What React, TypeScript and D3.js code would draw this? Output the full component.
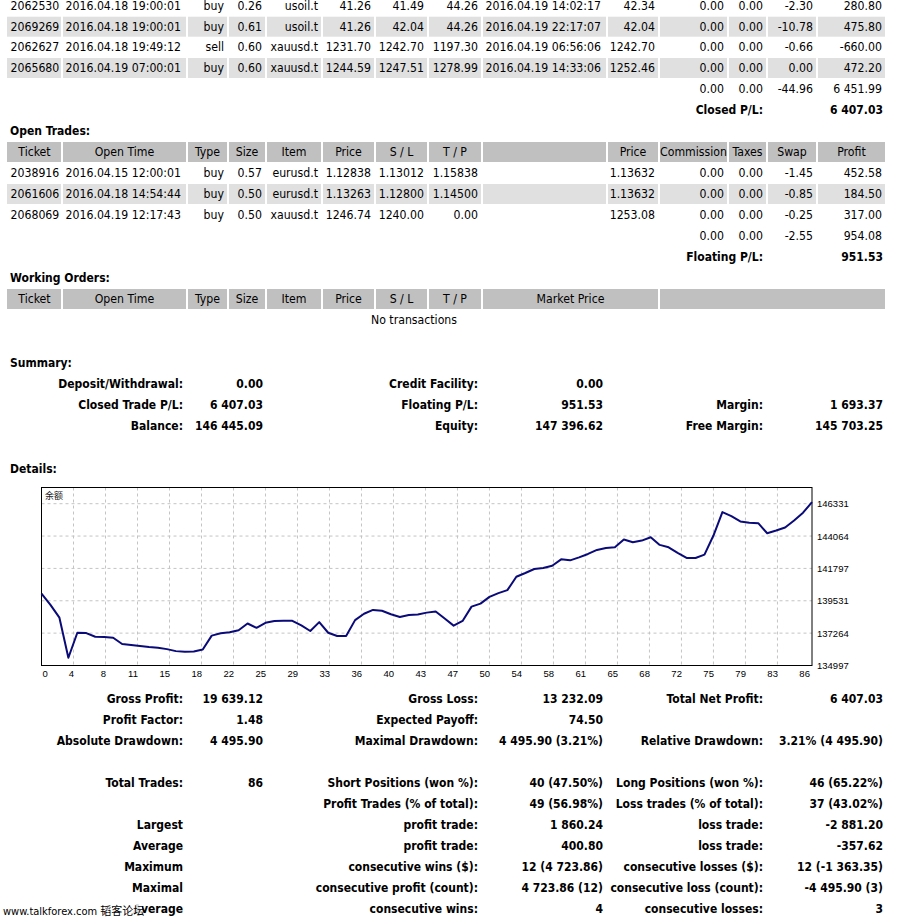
import React from "react";
import * as d3 from "d3";

const FONT = "'DejaVu Sans Condensed', 'Liberation Sans', sans-serif";
const TABLE_SIZE = 12.2;

// ---------- table data ----------
const tradeHeaders = ["Ticket", "Open Time", "Type", "Size", "Item", "Price", "S / L", "T / P", "", "Price", "Commission", "Taxes", "Swap", "Profit"];
const tradeAlign = ["start", "start", "end", "end", "end", "end", "end", "end", "start", "end", "end", "end", "end", "end"];

const closedTrades = [
  ["2062530", "2016.04.18 19:00:01", "buy", "0.26", "usoil.t", "41.26", "41.49", "44.26", "2016.04.19 14:02:17", "42.34", "0.00", "0.00", "-2.30", "280.80"],
  ["2069269", "2016.04.18 19:00:01", "buy", "0.61", "usoil.t", "41.26", "42.04", "44.26", "2016.04.19 22:17:07", "42.04", "0.00", "0.00", "-10.78", "475.80"],
  ["2062627", "2016.04.18 19:49:12", "sell", "0.60", "xauusd.t", "1231.70", "1242.70", "1197.30", "2016.04.19 06:56:06", "1242.70", "0.00", "0.00", "-0.66", "-660.00"],
  ["2065680", "2016.04.19 07:00:01", "buy", "0.60", "xauusd.t", "1244.59", "1247.51", "1278.99", "2016.04.19 14:33:06", "1252.46", "0.00", "0.00", "0.00", "472.20"],
];
const closedTotals = ["0.00", "0.00", "-44.96", "6 451.99"];
const closedPL = "6 407.03";

const openTrades = [
  ["2038916", "2016.04.15 12:00:01", "buy", "0.57", "eurusd.t", "1.12838", "1.13012", "1.15838", "", "1.13632", "0.00", "0.00", "-1.45", "452.58"],
  ["2061606", "2016.04.18 14:54:44", "buy", "0.50", "eurusd.t", "1.13263", "1.12800", "1.14500", "", "1.13632", "0.00", "0.00", "-0.85", "184.50"],
  ["2068069", "2016.04.19 12:17:43", "buy", "0.50", "xauusd.t", "1246.74", "1240.00", "0.00", "", "1253.08", "0.00", "0.00", "-0.25", "317.00"],
];
const openTotals = ["0.00", "0.00", "-2.55", "954.08"];
const floatingPL = "951.53";

const workingHeaders = ["Ticket", "Open Time", "Type", "Size", "Item", "Price", "S / L", "T / P", "Market Price", ""];

const summaryRows = [
  ["Deposit/Withdrawal:", "0.00", "Credit Facility:", "0.00", "", ""],
  ["Closed Trade P/L:", "6 407.03", "Floating P/L:", "951.53", "Margin:", "1 693.37"],
  ["Balance:", "146 445.09", "Equity:", "147 396.62", "Free Margin:", "145 703.25"],
];

const detailRows = [
  ["Gross Profit:", "19 639.12", "Gross Loss:", "13 232.09", "Total Net Profit:", "6 407.03"],
  ["Profit Factor:", "1.48", "Expected Payoff:", "74.50", "", ""],
  ["Absolute Drawdown:", "4 495.90", "Maximal Drawdown:", "4 495.90 (3.21%)", "Relative Drawdown:", "3.21% (4 495.90)"],
  ["", "", "", "", "", ""],
  ["Total Trades:", "86", "Short Positions (won %):", "40 (47.50%)", "Long Positions (won %):", "46 (65.22%)"],
  ["", "", "Profit Trades (% of total):", "49 (56.98%)", "Loss trades (% of total):", "37 (43.02%)"],
  ["Largest", "", "profit trade:", "1 860.24", "loss trade:", "-2 881.20"],
  ["Average", "", "profit trade:", "400.80", "loss trade:", "-357.62"],
  ["Maximum", "", "consecutive wins ($):", "12 (4 723.86)", "consecutive losses ($):", "12 (-1 363.35)"],
  ["Maximal", "", "consecutive profit (count):", "4 723.86 (12)", "consecutive loss (count):", "-4 495.90 (3)"],
  ["Average", "", "consecutive wins:", "4", "consecutive losses:", "3"],
];

// ---------- chart data ----------
const balance = [
  140038, 139242, 138348, 135542, 137292, 137270, 137010, 136990, 136940, 136500,
  136426, 136356, 136285, 136236, 136144, 136004, 135954, 135983, 136123, 137090,
  137250, 137320, 137470, 137940, 137634, 137985, 138116, 138137, 138130, 137813,
  137412, 138035, 137292, 137060, 137070, 138175, 138620, 138890, 138830, 138587,
  138400, 138538, 138570, 138700, 138785, 138290, 137790, 138116, 139122, 139334,
  139805, 140066, 140277, 141213, 141474, 141755, 141826, 141988, 142431, 142361,
  142572, 142811, 143093, 143234, 143276, 143818, 143628, 143748, 143980, 143445,
  143276, 142882, 142530, 142530, 142762, 144100, 145740, 145459, 145085, 144993,
  144965, 144262, 144452, 144663, 145156, 145698, 146445,
];
const yTicks = [134997, 137264, 139531, 141797, 144064, 146331];
const yTop = 147465;
const xTickLabels = ["0", "4", "8", "11", "15", "18", "22", "25", "29", "33", "36", "40", "43", "47", "50", "54", "58", "61", "65", "68", "72", "75", "79", "83", "86"];
const chartTitle = "余额";

// ---------- layout ----------
const tradeEdges = [7, 62, 187, 228, 266, 322, 375, 428, 482, 607, 659, 728, 767, 817, 886];
const workingEdges = [7, 62, 187, 228, 266, 322, 375, 428, 482, 659, 886];
const colRight = [183, 263, 478, 603, 763, 883];
const HEADER_BG = "#c0c0c0";
const ALT_BG = "#e0e0e0";

type TProps = { x: number; y: number; anchor?: string; bold?: boolean; size?: number; children: React.ReactNode; fill?: string; family?: string };
const T = ({ x, y, anchor = "start", bold = false, size = TABLE_SIZE, children, fill = "#000", family = FONT }: TProps) => (
  <text x={x} y={y} textAnchor={anchor as any} dominantBaseline="central" fontFamily={family} fontSize={size} fontWeight={bold ? "bold" : "normal"} fill={fill}>
    {children}
  </text>
);

function RowCells({ edges, cy, bg, h = 20 }: { edges: number[]; cy: number; bg: string; h?: number }) {
  return (
    <g>
      {edges.slice(0, -1).map((e, i) => (
        <rect key={i} x={i === 0 ? e : e + 1} y={cy - h / 2} width={edges[i + 1] - (i === 0 ? e : e + 1) - 1} height={h} fill={bg} />
      ))}
    </g>
  );
}

function TradeRow({ row, cy, bg }: { row: string[]; cy: number; bg: string | null }) {
  return (
    <g>
      {bg && <RowCells edges={tradeEdges} cy={cy} bg={bg} />}
      {row.map((v, i) => {
        const a = tradeAlign[i];
        const x = a === "start" ? tradeEdges[i] + 3.5 : tradeEdges[i + 1] - 4;
        return <T key={i} x={x} y={cy} anchor={a}>{v}</T>;
      })}
    </g>
  );
}

function HeaderRow({ edges, labels, cy }: { edges: number[]; labels: string[]; cy: number }) {
  return (
    <g>
      <RowCells edges={edges} cy={cy} bg={HEADER_BG} />
      {labels.map((l, i) => (
        <T key={i} x={(edges[i] + edges[i + 1]) / 2} y={cy} anchor="middle">{l}</T>
      ))}
    </g>
  );
}

function StatRow({ row, cy }: { row: string[]; cy: number }) {
  return (
    <g>
      {row.map((v, i) => (v ? <T key={i} x={colRight[i]} y={cy} anchor="end" bold size={12}>{v}</T> : null))}
    </g>
  );
}

function Chart() {
  const left = 41.5, right = 812, top = 487.5, bottom = 665.5;
  const x = d3.scaleLinear().domain([0, balance.length - 1]).range([left, right]);
  const y = d3.scaleLinear().domain([yTicks[0], yTop]).range([bottom, top]);
  const line = d3.line<number>().x((_, i) => x(i)).y((d) => y(d));
  const step = 25 / 7;
  return (
    <g>
      <rect x={left} y={top} width={right - left} height={bottom - top} fill="#fff" />
      {xTickLabels.map((l, k) => {
        const gx = x(k * step);
        return (
          <g key={k}>
            {k > 0 && k < xTickLabels.length - 1 && (
              <line x1={gx} x2={gx} y1={top} y2={bottom} stroke="#c4c4c4" strokeDasharray="3,3" />
            )}
            <T x={k === 0 ? left + 1 : gx + 0.5} y={673} anchor={k === 0 ? "start" : "end"} size={9.5} family="'Liberation Sans', sans-serif">{l}</T>
          </g>
        );
      })}
      {yTicks.map((t, k) => (
        <g key={t}>
          {k > 0 && <line x1={left} x2={right} y1={y(t)} y2={y(t)} stroke="#c4c4c4" strokeDasharray="3,3" />}
          <T x={817} y={y(t)} size={9.5} family="'Liberation Sans', sans-serif">{t}</T>
        </g>
      ))}
      <rect x={left} y={top} width={right - left} height={bottom - top} fill="none" stroke="#000" strokeWidth={1} />
      <path d={line(balance) || ""} fill="none" stroke="#0a0a78" strokeWidth={2} strokeLinejoin="round" />
      <T x={45} y={495} size={9} family="'Noto Sans CJK SC', sans-serif" fill="#222">{chartTitle}</T>
    </g>
  );
}

export default function App() {
  const closedY = [6, 26.7, 47.3, 68];
  const openY = [173, 194, 215];
  const detailY0 = 699;
  const pitch = 21;
  return (
    <svg width={899} height={922} style={{ position: "absolute", left: 0, top: 0, background: "#fff" }}>
      <rect x={0} y={0} width={899} height={922} fill="#fff" />
      {/* closed trades tail */}
      {closedTrades.map((r, i) => (
        <TradeRow key={i} row={r} cy={closedY[i]} bg={i % 2 === 1 ? ALT_BG : null} />
      ))}
      {closedTotals.map((v, i) => (
        <T key={i} x={tradeEdges[11 + i] - 4} y={88.7} anchor="end">{v}</T>
      ))}
      <T x={763} y={110} anchor="end" bold size={12}>Closed P/L:</T>
      <T x={883} y={110} anchor="end" bold size={12}>{closedPL}</T>

      {/* open trades */}
      <T x={10} y={131} bold size={12}>Open Trades:</T>
      <HeaderRow edges={tradeEdges} labels={tradeHeaders} cy={152} />
      {openTrades.map((r, i) => (
        <TradeRow key={i} row={r} cy={openY[i]} bg={i % 2 === 1 ? ALT_BG : null} />
      ))}
      {openTotals.map((v, i) => (
        <T key={i} x={tradeEdges[11 + i] - 4} y={236} anchor="end">{v}</T>
      ))}
      <T x={763} y={257} anchor="end" bold size={12}>Floating P/L:</T>
      <T x={883} y={257} anchor="end" bold size={12}>{floatingPL}</T>

      {/* working orders */}
      <T x={10} y={278} bold size={12}>Working Orders:</T>
      <HeaderRow edges={workingEdges} labels={workingHeaders} cy={299} />
      <T x={414} y={320} anchor="middle">No transactions</T>

      {/* summary */}
      <T x={10} y={363} bold size={12}>Summary:</T>
      {summaryRows.map((r, i) => (
        <StatRow key={i} row={r} cy={384 + i * 21} />
      ))}

      {/* details */}
      <T x={10} y={469} bold size={12}>Details:</T>
      <Chart />
      {detailRows.map((r, i) => (
        <StatRow key={i} row={r} cy={detailY0 + i * pitch} />
      ))}

      {/* watermark */}
      <rect x={0} y={901} width={142} height={20} fill="#fff" opacity={0.85} />
      <T x={3} y={911} size={11} family="'DejaVu Sans Condensed', 'Noto Sans CJK SC', sans-serif">www.talkforex.com 韬客论坛</T>
    </svg>
  );
}
